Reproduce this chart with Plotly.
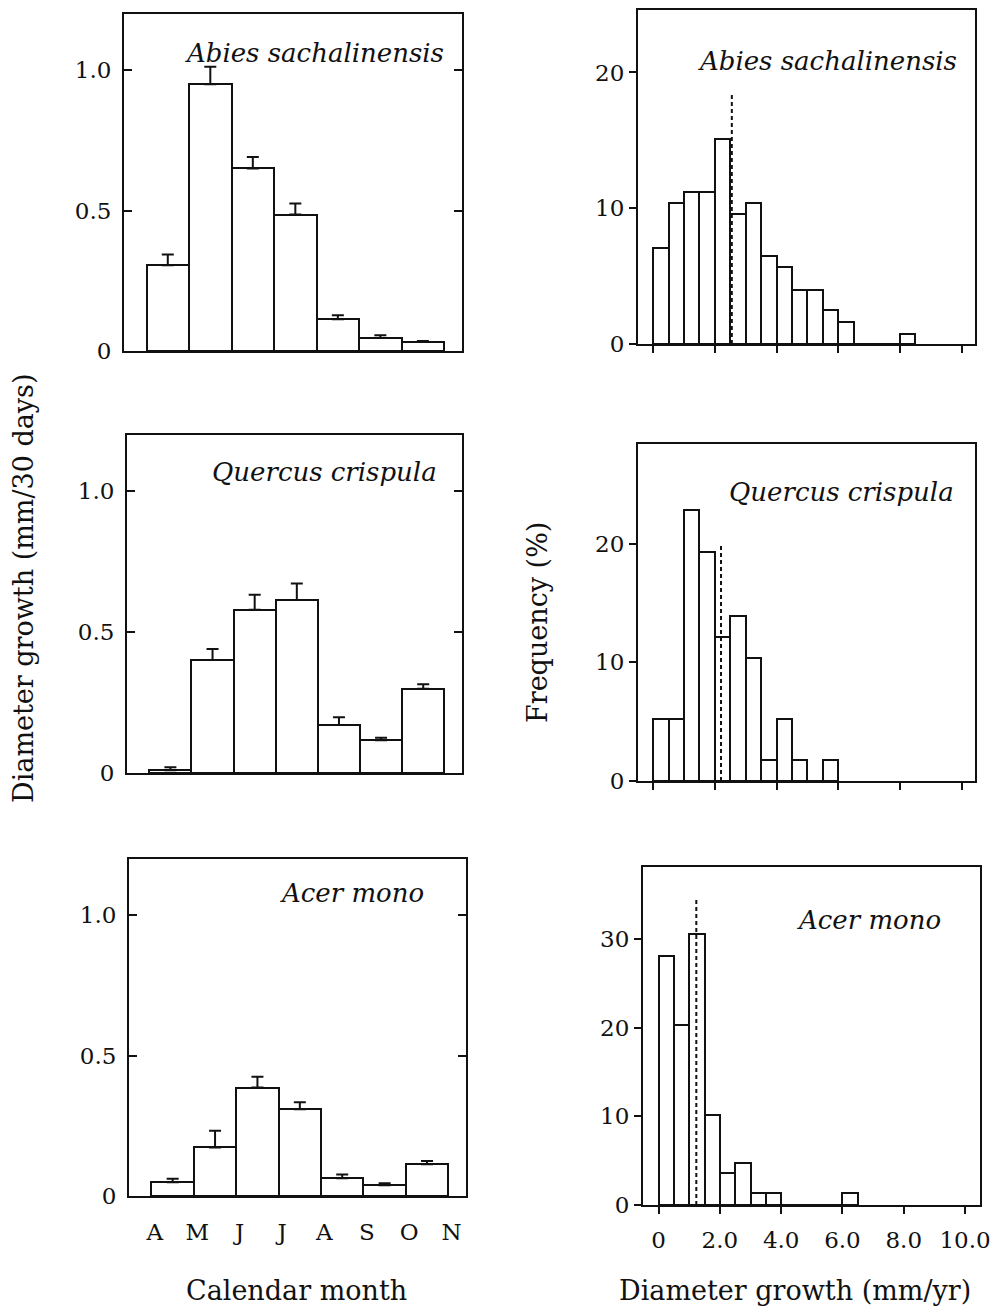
import plotly.graph_objects as go

# ---------------- data ----------------
months = ["A", "M", "J", "J", "A", "S", "O", "N"]

abies_growth = [0.305, 0.950, 0.650, 0.486, 0.113, 0.046, 0.032]
abies_se = [0.039, 0.062, 0.041, 0.039, 0.014, 0.010, 0.004]

quercus_growth = [0.010, 0.401, 0.580, 0.614, 0.170, 0.116, 0.299]
quercus_se = [0.010, 0.039, 0.053, 0.059, 0.028, 0.009, 0.016]

acer_growth = [0.049, 0.173, 0.386, 0.309, 0.063, 0.038, 0.113]
acer_se = [0.012, 0.059, 0.039, 0.025, 0.014, 0.007, 0.012]

bin_left = [0.0, 0.5, 1.0, 1.5, 2.0, 2.5, 3.0, 3.5, 4.0, 4.5, 5.0, 5.5, 6.0, 6.5, 7.0, 7.5, 8.0]
bin_width = 0.5

abies_freq = [7.1, 10.4, 11.2, 11.2, 15.1, 9.6, 10.4, 6.5, 5.7, 3.95, 3.95, 2.5, 1.6, 0, 0, 0, 0.74]
quercus_freq = [5.2, 5.2, 22.8, 19.3, 12.1, 13.9, 10.4, 1.75, 5.2, 1.75, 0, 1.75]
acer_freq = [28.1, 20.3, 30.5, 10.2, 3.6, 4.7, 1.3, 1.3, 0, 0, 0, 0, 1.3]

abies_mean, abies_mean_top = 2.55, 18.5
quercus_mean, quercus_mean_top = 2.2, 20.0
acer_mean, acer_mean_top = 1.23, 34.5

growth_ticks = [0, 0.5, 1.0]
growth_ticklabels = ["0", "0.5", "1.0"]
hist_xticks = [0, 2, 4, 6, 8, 10]
hist_xticklabels = ["0", "2.0", "4.0", "6.0", "8.0", "10.0"]

species = ["Abies sachalinensis", "Quercus crispula", "Acer mono"]

# ---------------- figure ----------------
FONT = "DejaVu Serif"
PAGE_OFF = 8              # default body margin of the html page
W, H = 999 - PAGE_OFF, 1314 - PAGE_OFF

fig = go.Figure()

def clamp(v):
    return min(1.0, max(0.0, v))

def px_x(p):
    return clamp((p - PAGE_OFF) / W)

def px_y(p):
    return clamp(1 - (p - PAGE_OFF) / H)

# panel frames in screen pixels: (x0, x1, ytop, ybottom)
left_frames = [(124, 462, 14, 351), (127, 462, 435, 773), (129, 466, 859, 1196)]
right_frames = [(638, 975, 10, 344), (638, 975, 444, 781), (643, 980, 867, 1205)]
# species label positions (right edge px, centre y px)
left_label_pos = [(446, 53), (439, 472), (426, 893)]
right_label_pos = [(959, 61), (956, 492), (943, 920)]

left_data = [(abies_growth, abies_se), (quercus_growth, quercus_se), (acer_growth, acer_se)]
right_data = [(abies_freq, abies_mean, abies_mean_top, [0, 24.6], [-0.49, 10.43]),
              (quercus_freq, quercus_mean, quercus_mean_top, [0, 28.4], [-0.49, 10.43]),
              (acer_freq, acer_mean, acer_mean_top, [0, 38.1], [-0.51, 10.49])]

line_col = "#111111"
tick_font = dict(family=FONT, size=23, color="#111111")
label_font = dict(family=FONT, size=26, color="#111111")

ax_n = 0
for i in range(3):
    # ---- left panel ----
    ax_n += 1
    xa = "x" if ax_n == 1 else f"x{ax_n}"
    ya = "y" if ax_n == 1 else f"y{ax_n}"
    vals, se = left_data[i]
    fig.add_trace(go.Bar(
        x=[k + 0.5 for k in range(len(vals))], y=vals, width=1.0,
        marker=dict(color="white", line=dict(color=line_col, width=2)),
        error_y=dict(type="data", array=se, arrayminus=[0] * len(se), symmetric=False,
                     color=line_col, thickness=2, width=6),
        xaxis=xa, yaxis=ya, showlegend=False))
    x0, x1, yt, yb = left_frames[i]
    lay_x = "xaxis" if ax_n == 1 else f"xaxis{ax_n}"
    lay_y = "yaxis" if ax_n == 1 else f"yaxis{ax_n}"
    fig.layout[lay_x] = dict(
        domain=[px_x(x0), px_x(x1)], anchor=ya, range=[-0.53, 7.42],
        tickvals=[k + 0.08 for k in range(len(months))], ticktext=months,
        showticklabels=(i == 2), ticks="", showgrid=False, zeroline=False,
        showline=True, linecolor=line_col, linewidth=2, mirror=True,
        tickfont=tick_font, ticklabelstandoff=14, automargin=False)
    fig.layout[lay_y] = dict(
        domain=[px_y(yb), px_y(yt)], anchor=xa, range=[0, 1.2],
        tickvals=growth_ticks, ticktext=growth_ticklabels,
        ticks="inside", ticklen=8, tickwidth=2, tickcolor=line_col,
        showgrid=False, zeroline=False,
        showline=True, linecolor=line_col, linewidth=2, mirror="ticks",
        tickfont=tick_font, ticklabelstandoff=6, automargin=False)
    lx, ly = left_label_pos[i]
    fig.add_annotation(text=f"<i>{species[i]}</i>", xref="paper", yref="paper",
                       x=px_x(lx), y=px_y(ly), xanchor="right", yanchor="middle",
                       showarrow=False, font=label_font)

    # ---- right panel ----
    ax_n += 1
    xa = f"x{ax_n}"
    ya = f"y{ax_n}"
    freq, mean, mtop, yr, xr = right_data[i]
    fig.add_trace(go.Bar(
        x=bin_left[:len(freq)], y=freq, width=bin_width, offset=0,
        marker=dict(color="white", line=dict(color=line_col, width=2)),
        xaxis=xa, yaxis=ya, showlegend=False))
    fig.add_trace(go.Scatter(
        x=[mean, mean], y=[0, mtop], mode="lines",
        line=dict(color=line_col, width=2, dash="4px,3px"),
        xaxis=xa, yaxis=ya, showlegend=False))
    x0, x1, yt, yb = right_frames[i]
    fig.layout[f"xaxis{ax_n}"] = dict(
        domain=[px_x(x0), px_x(x1)], anchor=ya, range=xr,
        tickvals=hist_xticks, ticktext=hist_xticklabels,
        showticklabels=(i == 2), ticks="outside", ticklen=7, tickwidth=2, tickcolor=line_col,
        showgrid=False, zeroline=False,
        showline=True, linecolor=line_col, linewidth=2, mirror=True,
        tickfont=tick_font, ticklabelstandoff=6, automargin=False)
    fig.layout[f"yaxis{ax_n}"] = dict(
        domain=[px_y(yb), px_y(yt)], anchor=xa, range=yr,
        tickvals=[0, 10, 20, 30], ticks="outside", ticklen=7, tickwidth=2, tickcolor=line_col,
        showgrid=False, zeroline=False,
        showline=True, linecolor=line_col, linewidth=2, mirror=True,
        tickfont=tick_font, automargin=False)
    rx, ry = right_label_pos[i]
    fig.add_annotation(text=f"<i>{species[i]}</i>", xref="paper", yref="paper",
                       x=px_x(rx), y=px_y(ry), xanchor="right", yanchor="middle",
                       showarrow=False, font=label_font)

title_font = dict(family=FONT, size=27, color="#111111")
fig.add_annotation(text="Diameter growth (mm/30 days)", xref="paper", yref="paper",
                   x=px_x(24), y=px_y(589), textangle=-90, showarrow=False,
                   xanchor="center", yanchor="middle", font=title_font)
fig.add_annotation(text="Frequency (%)", xref="paper", yref="paper",
                   x=px_x(537), y=px_y(623), textangle=-90, showarrow=False,
                   xanchor="center", yanchor="middle", font=title_font)
fig.add_annotation(text="Calendar month", xref="paper", yref="paper",
                   x=px_x(296), y=px_y(1290), showarrow=False,
                   xanchor="center", yanchor="middle", font=title_font)
fig.add_annotation(text="Diameter growth (mm/yr)", xref="paper", yref="paper",
                   x=px_x(795), y=px_y(1290), showarrow=False,
                   xanchor="center", yanchor="middle", font=title_font)

fig.update_layout(width=W, height=H, margin=dict(l=0, r=0, t=0, b=0, autoexpand=False),
                  paper_bgcolor="white", plot_bgcolor="white", bargap=0)

fig.write_html("out.html")
